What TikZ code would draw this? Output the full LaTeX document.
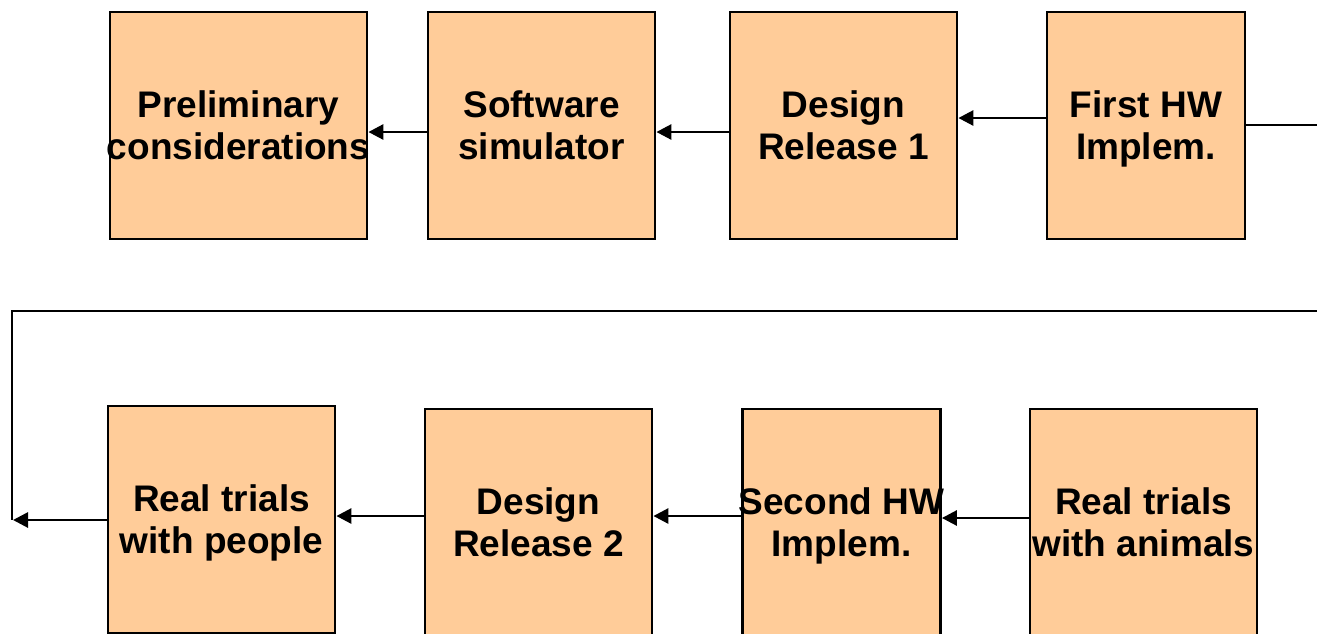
\documentclass[tikz,border=0pt]{standalone}
\usepackage{fontspec}
\setmainfont{Liberation Sans}
\usetikzlibrary{arrows.meta,calc}
\definecolor{boxfill}{HTML}{FFCC99}
\tikzset{
  txt/.style={align=center, inner sep=0pt, font=\fontsize{37}{42}\selectfont\bfseries},
  box/.style={draw=black, fill=boxfill, line width=2.8pt, minimum height=227pt, inner sep=0pt},
  stage/.style={box, label={[txt]center:{#1}}},
  stagelow/.style={box, label={[txt, yshift=-3.5pt]center:{#1}}},
  flow/.style={line width=2.8pt, -{Triangle[length=15pt,width=15pt]}},
  link/.style={line width=2.8pt},
  wide/.style={minimum width=227pt},
  narrow/.style={minimum width=198pt}
}
\begin{document}
\begin{tikzpicture}[x=1pt,y=-1pt]
\useasboundingbox (0,0) rectangle (1317,633);
\clip (0,0) rectangle (1317,633);
% upper row
\node[stage={Preliminary\\considerations}, minimum width=257pt] (pre) at (238.5,125.5) {};
\node[stage={Software\\simulator}, wide] (sw) at (541.5,125.5) {};
\node[stage={Design\\Release 1}, wide] (dr1) at (843.5,125.5) {};
\node[stagelow={First HW\\Implem.}, narrow] (hw1) at (1146,125.5) {};
% lower row
\node[stagelow={Real trials\\with people}, wide] (people) at (221.5,519.5) {};
\node[stage={Design\\Release 2}, wide] (dr2) at (538.5,522.5) {};
\node[stagelow={Second HW\\Implem.}, narrow] (hw2) at (841.5,522.5) {};
\node[stage={Real trials\\with animals}, wide] (animals) at (1143.5,522.5) {};
% corner points of the return line
\coordinate (rt) at (1317,125);
\coordinate (rm) at (1317,311);
\coordinate (lm) at (12,311);
\coordinate (lb) at (12,520);
\coordinate (lend) at (13,520);
% upper row arrows
\draw[flow] ([yshift=-6.5pt]sw.west) -- ([yshift=-6.5pt]sw.west -| pre.east);
\draw[flow] ([yshift=-6.5pt]dr1.west) -- ([yshift=-6.5pt]dr1.west -| sw.east);
\draw[flow] ([yshift=7.5pt]hw1.west) -- ([yshift=7.5pt]hw1.west -| dr1.east);
\draw[link] (hw1.east |- rt) -- (rt);
% lower row arrows
\draw[flow] ([yshift=4.5pt]animals.west) -- ([yshift=4.5pt]animals.west -| hw2.east);
\draw[flow] ([yshift=6.5pt]hw2.west) -- ([yshift=6.5pt]hw2.west -| dr2.east);
\draw[flow] ([yshift=6.5pt]dr2.west) -- ([yshift=6.5pt]dr2.west -| people.east);
\draw[flow] (people.west |- lend) -- (lend);
\draw[link, line join=miter] (rm) -- (lm) -- (lb);
\end{tikzpicture}
\end{document}
